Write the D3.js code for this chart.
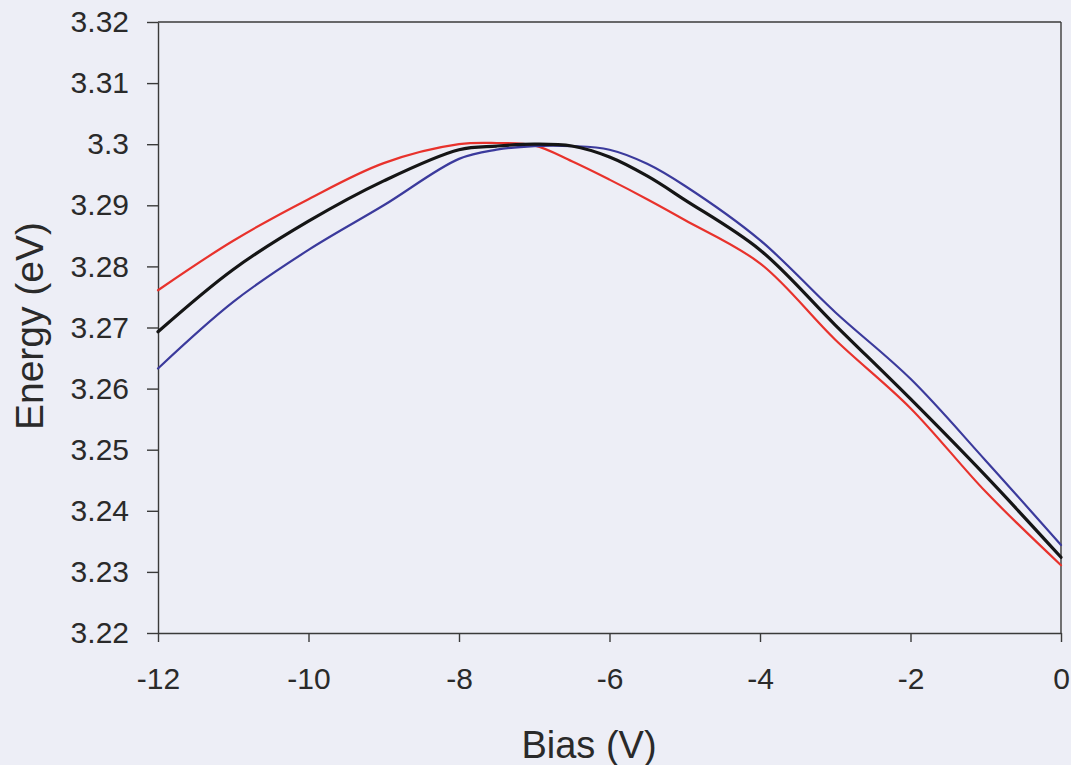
<!DOCTYPE html>
<html>
<head>
<meta charset="utf-8">
<script src="https://cdn.jsdelivr.net/npm/d3@7"></script>
<style>
  html, body { margin: 0; padding: 0; background: #edeef6; }
  svg { display: block; }
  text { font-family: "Liberation Sans", Arial, sans-serif; fill: #2a2a2a; }
</style>
</head>
<body>
<svg id="chart" width="1071" height="765"></svg>
<script>
// Bias voltage (V) at which the peak energy was sampled
const bias = [-12, -11, -10, -9, -8, -7.5, -7, -6.5, -6, -5.5, -5, -4, -3, -2, -1, 0];

// Peak energy (eV) for the three curves
const energyRed   = [3.2761, 3.2842, 3.2910, 3.2969, 3.3000, 3.3002, 3.2998, 3.2972, 3.2942, 3.2910, 3.2876, 3.2805, 3.2680, 3.2568, 3.2431, 3.2311];
const energyBlack = [3.2693, 3.2795, 3.2874, 3.2940, 3.2991, 3.2997, 3.3000, 3.2997, 3.2979, 3.2948, 3.2909, 3.2827, 3.2704, 3.2583, 3.2457, 3.2324];
const energyBlue  = [3.2633, 3.2742, 3.2827, 3.2900, 3.2976, 3.2991, 3.2997, 3.2997, 3.2991, 3.2968, 3.2932, 3.2843, 3.2725, 3.2616, 3.2482, 3.2344];

const xTicks = [-12, -10, -8, -6, -4, -2, 0];
const yTicks = [3.22, 3.23, 3.24, 3.25, 3.26, 3.27, 3.28, 3.29, 3.30, 3.31, 3.32];
const yTickLabels = ["3.22", "3.23", "3.24", "3.25", "3.26", "3.27", "3.28", "3.29", "3.3", "3.31", "3.32"];

const series = [
  { values: energyRed,   color: "#e8322c", width: 2.2 },
  { values: energyBlue,  color: "#3b3a9c", width: 2.2 },
  { values: energyBlack, color: "#151515", width: 3.2 }
];

const svg = d3.select("#chart");
const plot = { left: 158, right: 1061, top: 22, bottom: 633 };

const x = d3.scaleLinear().domain([-12, 0]).range([plot.left, plot.right]);
const y = d3.scaleLinear().domain([3.22, 3.32]).range([plot.bottom, plot.top]);

const axisColor = "#3a3a3a";
const tickFont = 30;

// Frame: top and right borders
svg.append("line")
  .attr("x1", plot.left).attr("x2", plot.right)
  .attr("y1", plot.top).attr("y2", plot.top)
  .attr("stroke", axisColor).attr("stroke-width", 1.4);
svg.append("line")
  .attr("x1", plot.right).attr("x2", plot.right)
  .attr("y1", plot.top).attr("y2", plot.bottom)
  .attr("stroke", axisColor).attr("stroke-width", 1.4);

// X axis
const xAxis = d3.axisBottom(x).tickValues(xTicks)
  .tickSize(9).tickSizeOuter(0).tickPadding(26);
const gx = svg.append("g").attr("transform", `translate(0,${plot.bottom})`).call(xAxis);
gx.select(".domain").attr("stroke", axisColor).attr("stroke-width", 1.4);
gx.selectAll(".tick line").attr("stroke", axisColor).attr("stroke-width", 1.4);
gx.selectAll(".tick text")
  .attr("font-size", tickFont).attr("fill", "#2a2a2a")
  .attr("font-family", "Liberation Sans, Arial, sans-serif")
  .text(d => d < 0 ? "-" + Math.abs(d) : String(d));

// Y axis
const yAxis = d3.axisLeft(y).tickValues(yTicks)
  .tickFormat((d, i) => yTickLabels[i])
  .tickSize(11).tickSizeOuter(0).tickPadding(18);
const gy = svg.append("g").attr("transform", `translate(${plot.left},0)`).call(yAxis);
gy.select(".domain").attr("stroke", axisColor).attr("stroke-width", 1.4);
gy.selectAll(".tick line").attr("stroke", axisColor).attr("stroke-width", 1.4);
gy.selectAll(".tick text")
  .attr("font-size", tickFont).attr("fill", "#2a2a2a")
  .attr("font-family", "Liberation Sans, Arial, sans-serif");

// Curves
const line = d3.line()
  .x((d, i) => x(bias[i]))
  .y(d => y(d))
  .curve(d3.curveCatmullRom.alpha(0.5));

svg.append("g").selectAll("path")
  .data(series)
  .join("path")
  .attr("d", s => line(s.values))
  .attr("fill", "none")
  .attr("stroke", s => s.color)
  .attr("stroke-width", s => s.width)
  .attr("stroke-linejoin", "round")
  .attr("stroke-linecap", "round");

// Axis titles
svg.append("text")
  .attr("x", 589).attr("y", 758)
  .attr("text-anchor", "middle")
  .attr("font-size", 38)
  .text("Bias (V)");

svg.append("text")
  .attr("transform", "translate(43,326) rotate(-90)")
  .attr("text-anchor", "middle")
  .attr("font-size", 39)
  .text("Energy (eV)");
</script>
</body>
</html>
